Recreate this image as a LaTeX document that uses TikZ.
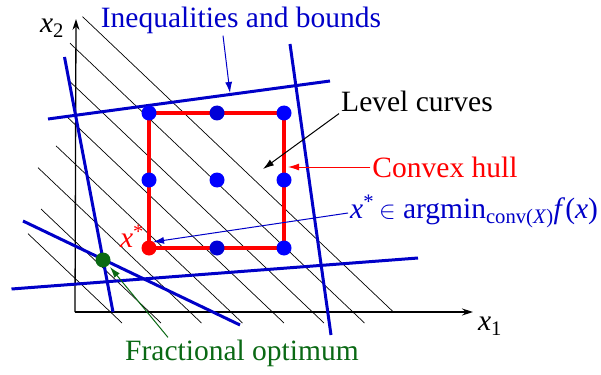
\documentclass[tikz,border=0pt]{standalone}
\usepackage{fontspec}
\setmainfont{LiberationSerif}[Extension=.ttf, UprightFont=*-Regular, ItalicFont=*-Italic, BoldFont=*-Bold]
\usetikzlibrary{arrows.meta}

\definecolor{boundblue}{RGB}{0,0,200}
\definecolor{dotblue}{RGB}{0,0,255}
\definecolor{middark}{RGB}{0,0,215}
\definecolor{optgreen}{RGB}{10,105,20}

\begin{document}
\begin{tikzpicture}[x=1pt, y=-1pt,
    bound/.style={draw=boundblue, line width=3pt},
    level/.style={draw=black, line width=0.7pt},
    vertex/.style={circle, fill=dotblue, minimum size=15pt, inner sep=0pt},
    txt/.style={font=\fontsize{29.5}{34}\selectfont, inner sep=2pt},
    pointer/.style={-{Latex[length=11pt,width=7pt]}, line width=1pt}
]
\useasboundingbox (0,0) rectangle (601,374);

% Axes
\coordinate (O) at (75,312);
\coordinate (xend) at (473,312);
\coordinate (yend) at (76,19);
\draw[line width=1.3pt, -{Stealth[length=11pt,width=7pt]}] (O) -- (xend);
\draw[line width=1.3pt, -{Stealth[length=11pt,width=7pt]}] (O) -- (yend);
\node[txt] (x1) at (490,326) {\textit{x}\textsubscript{1}};
\node[txt] (x2) at (52,28) {\textit{x}\textsubscript{2}};

% Level curves
\foreach \sx/\bx/\by in {28/122/323, 41/161/323, 38/201.5/323, 56/242.5/323,
                         68/284/323, 69/324/323, 70/364.5/323, 82.5/393.4/312}
    \draw[level] (\sx,{\by-0.95*(\bx-\sx)}) -- (\bx,\by);

% Inequalities and bounds
\draw[bound] (48,119) -- (330,81);
\draw[bound] (11.5,289) -- (418,258);
\draw[bound] (64.5,57) -- (113,312);
\draw[bound] (290,44) -- (331,335);
\draw[bound] (23,221) -- (240,325);

% Convex hull
\draw[red, line width=3.2pt] (149,113) rectangle (284,248);

% Integer points
\node[vertex] (p11) at (149,113) {};
\node[vertex, fill=middark] (p12) at (217,113) {};
\node[vertex] (p13) at (284,113) {};
\node[vertex] (p21) at (149,180) {};
\node[vertex] (p22) at (217,180) {};
\node[vertex] (p23) at (284,180) {};
\node[vertex, fill=red] (p31) at (149,248) {};
\node[vertex, fill=middark] (p32) at (217,248) {};
\node[vertex] (p33) at (284,248) {};
\node[vertex, fill=optgreen] (frac) at (103,260) {};

% Labels
\node[txt, text=boundblue] (ineq) at (241,20) {Inequalities and bounds};
\node[txt] (levels) at (417,101) {Level curves};
\node[txt, text=red] (hull) at (445,167) {Convex hull};
\node[txt, text=boundblue, anchor=base west] (argmin) at (348,218)
    {\textit{x}\textsuperscript{*}\,$\in$ argmin\textsubscript{conv(\textit{X})}\textit{f}(\textit{x})};
\node[txt, text=red] (xstar) at (132,236) {\textit{x}\textsuperscript{*}};
\node[txt, text=optgreen] (fracopt) at (242,353) {Fractional optimum};

% Pointers
\coordinate (ineqtip) at (230,93);
\coordinate (leveltip) at (263,169);
\coordinate (hulltip) at (288,167);
\coordinate (startip) at (153,242);
\coordinate (fractip) at (110,267);
\draw[pointer, boundblue] ([xshift=-18pt]ineq.south) -- (ineqtip);
\draw[pointer] (levels.south west) -- (leveltip);
\draw[pointer, red] (hull.west) -- (hulltip);
\draw[pointer, boundblue] ([yshift=5pt]argmin.base west) -- (startip);
\draw[pointer, optgreen] ([xshift=-74pt]fracopt.north) -- (fractip);

\end{tikzpicture}
\end{document}
